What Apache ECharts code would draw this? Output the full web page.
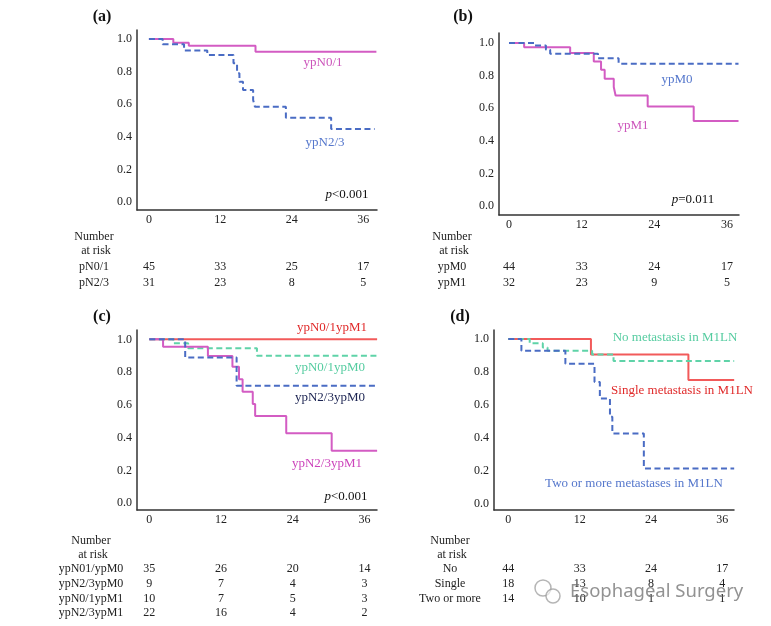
<!DOCTYPE html>
<html><head><meta charset="utf-8">
<script src="https://cdn.jsdelivr.net/npm/echarts@6/dist/echarts.min.js"></script>
<style>html,body{margin:0;padding:0;background:#fff}#c{width:771px;height:626px}</style>
</head><body><div id="c"></div>
<script>
// ---- tick labels ----
const monthTicks = [0, 12, 24, 36];
const survTicks = [0, 0.2, 0.4, 0.6, 0.8, 1.0];

// ---- panel (a) ----
const aN01_t = [0, 4.1, 6.7, 17.9, 38.2];
const aN01_s = [1.0, 0.977, 0.959, 0.922, 0.922];
const aN23_t = [0, 2.3, 5.9, 9.8, 14.2, 14.8, 15.2, 15.8, 17.5, 17.8, 23.0, 30.6, 37.9];
const aN23_s = [1.0, 0.967, 0.929, 0.902, 0.851, 0.79, 0.738, 0.687, 0.626, 0.585, 0.517, 0.448, 0.448];

// ---- panel (b) ----
const bM0_t = [0, 4.3, 6.1, 6.8, 14.7, 18.1, 37.9];
const bM0_s = [1.0, 0.985, 0.959, 0.934, 0.906, 0.873, 0.873];
const bM1_t = [0, 2.5, 10.1, 14.0, 15.2, 15.8, 17.3, 17.6, 22.9, 30.5, 37.9];
const bM1_s = [1.0, 0.973, 0.938, 0.887, 0.836, 0.78, 0.73, 0.678, 0.61, 0.522, 0.522];

// ---- panel (c) ----
const cN01M1_t = [0, 38.1];
const cN01M1_s = [1.0, 1.0];
const cN01M0_t = [0, 4.0, 6.5, 18.0, 38.1];
const cN01M0_s = [1.0, 0.976, 0.945, 0.9, 0.9];
const cN23M0_t = [0, 6.0, 14.6, 38.1];
const cN23M0_s = [1.0, 0.89, 0.717, 0.717];
const cN23M1_t = [0, 2.3, 9.8, 13.9, 15.0, 15.6, 17.3, 17.7, 22.9, 30.5, 38.1];
const cN23M1_s = [1.0, 0.955, 0.898, 0.833, 0.756, 0.681, 0.606, 0.533, 0.427, 0.321, 0.321];

// ---- panel (d) ----
const dNo_t = [0, 3.6, 5.8, 6.6, 14.1, 17.7, 38.0];
const dNo_s = [1.0, 0.974, 0.949, 0.929, 0.907, 0.867, 0.867];
const dSingle_t = [0, 13.9, 30.3, 38.0];
const dSingle_s = [1.0, 0.907, 0.752, 0.752];
const dTwo_t = [0, 2.2, 9.6, 14.5, 15.4, 17.1, 17.5, 22.8, 38.0];
const dTwo_s = [1.0, 0.929, 0.85, 0.74, 0.64, 0.529, 0.428, 0.216, 0.216];

// ---- numbers at risk ----
const riskA_rows = ['pN0/1', 'pN2/3'];
const riskA = [[45, 33, 25, 17], [31, 23, 8, 5]];
const riskB_rows = ['ypM0', 'ypM1'];
const riskB = [[44, 33, 24, 17], [32, 23, 9, 5]];
const riskC_rows = ['ypN01/ypM0', 'ypN2/3ypM0', 'ypN0/1ypM1', 'ypN2/3ypM1'];
const riskC = [[35, 26, 20, 14], [9, 7, 4, 3], [10, 7, 5, 3], [22, 16, 4, 2]];
const riskD_rows = ['No', 'Single', 'Two or more'];
const riskD = [[44, 33, 24, 17], [18, 13, 8, 4], [14, 10, 1, 1]];

const FONT = '"Liberation Serif", "Times New Roman", serif';
const MAG = '#d35cc3', BLUE = '#4a6cc4', RED = '#f25a5a', GREEN = '#5fd3a8', NAVY = '#1c2452';

const panels = [
  {grid: {left: 137, top: 30, width: 240, height: 180}, x: [-2.0, 38.3], y: [-0.049, 1.055]},
  {grid: {left: 499, top: 33, width: 240, height: 182}, x: [-1.65, 37.98], y: [-0.055, 1.061]},
  {grid: {left: 137, top: 330, width: 240, height: 180}, x: [-2.06, 38.08], y: [-0.041, 1.057]},
  {grid: {left: 494, top: 330, width: 240, height: 180}, x: [-2.41, 37.97], y: [-0.036, 1.055]}
];

function zip(t, s) { return t.map((v, i) => [v, s[i]]); }

const chart = echarts.init(document.getElementById('c'), null, {renderer: 'canvas'});

const grids = [], xAxes = [], yAxes = [];
panels.forEach((p, i) => {
  grids.push(Object.assign({containLabel: false}, p.grid));
  xAxes.push({
    type: 'value', gridIndex: i, min: p.x[0], max: p.x[1],
    axisLine: {show: true, onZero: false, lineStyle: {color: '#333', width: 1.5}},
    axisTick: {show: false}, splitLine: {show: false},
    axisLabel: {customValues: monthTicks, margin: 4, color: '#222', fontFamily: FONT, fontSize: 12,
      formatter: v => String(Math.round(v))}
  });
  yAxes.push({
    type: 'value', gridIndex: i, min: p.y[0], max: p.y[1],
    axisLine: {show: true, onZero: false, lineStyle: {color: '#333', width: 1.5}},
    axisTick: {show: false}, splitLine: {show: false},
    axisLabel: {customValues: survTicks, margin: 5, color: '#222', fontFamily: FONT, fontSize: 12,
      formatter: v => v.toFixed(1)}
  });
});

function km(idx, t, s, color, dashed) {
  return {
    type: 'line', xAxisIndex: idx, yAxisIndex: idx, step: 'end', symbol: 'none',
    data: zip(t, s), silent: true, animation: false,
    lineStyle: {color: color, width: 2, type: dashed ? [6, 3.5] : 'solid'}
  };
}

const series = [
  km(0, aN01_t, aN01_s, MAG, false),
  km(0, aN23_t, aN23_s, BLUE, true),
  km(1, bM1_t, bM1_s, MAG, false),
  km(1, bM0_t, bM0_s, BLUE, true),
  km(2, cN01M1_t, cN01M1_s, RED, false),
  km(2, cN01M0_t, cN01M0_s, GREEN, true),
  km(2, cN23M1_t, cN23M1_s, MAG, false),
  km(2, cN23M0_t, cN23M0_s, BLUE, true),
  km(3, dSingle_t, dSingle_s, RED, false),
  km(3, dNo_t, dNo_s, GREEN, true),
  km(3, dTwo_t, dTwo_s, BLUE, true)
];

chart.setOption({animation: false, grid: grids, xAxis: xAxes, yAxis: yAxes, series: series});

const g = [];
function txt(x, y, text, opts) {
  g.push({type: 'text', x: x, y: y, silent: true, style: Object.assign({
    text: text, fill: '#222', font: '12px ' + FONT, align: 'center', verticalAlign: 'middle'
  }, opts || {})});
}
function pval(x, y, rest) {
  g.push({type: 'text', x: x, y: y, silent: true, style: {
    text: '{i|p}{n|' + rest + '}', align: 'center', verticalAlign: 'middle',
    rich: {i: {fontFamily: FONT, fontSize: 13, fontStyle: 'italic', fill: '#111'},
           n: {fontFamily: FONT, fontSize: 13, fill: '#111'}}
  }});
}
// panel letters
[['(a)', 102, 17], ['(b)', 463, 17], ['(c)', 102, 317], ['(d)', 460, 317]].forEach(l =>
  txt(l[1], l[2], l[0], {font: 'bold 16px ' + FONT, fill: '#111'}));

// curve labels
const L13 = '13px ' + FONT;
txt(323, 63, 'ypN0/1', {font: L13, fill: '#cc55bb'});
txt(325, 143, 'ypN2/3', {font: L13, fill: '#5577cc'});
pval(347, 195, '<0.001');
txt(677, 80, 'ypM0', {font: L13, fill: '#5577cc'});
txt(633, 126, 'ypM1', {font: L13, fill: '#cc55bb'});
pval(693, 200, '=0.011');
txt(332, 328, 'ypN0/1ypM1', {font: L13, fill: '#e02a2a'});
txt(330, 368, 'ypN0/1ypM0', {font: L13, fill: '#55cca0'});
txt(330, 398, 'ypN2/3ypM0', {font: L13, fill: NAVY});
txt(327, 464, 'ypN2/3ypM1', {font: L13, fill: '#cc44bb'});
pval(346, 497, '<0.001');
txt(675, 338, 'No metastasis in M1LN', {font: L13, fill: '#55cca0'});
txt(682, 391, 'Single metastasis in M1LN', {font: L13, fill: '#e02a2a'});
txt(634, 484, 'Two or more metastases in M1LN', {font: L13, fill: '#5577cc'});

// risk tables
function riskTable(idx, labelX, yNum, rowYs, rows, vals) {
  txt(labelX, yNum, 'Number');
  txt(labelX + 2, yNum + 14, 'at risk');
  rows.forEach((r, i) => {
    txt(labelX, rowYs[i], r);
    vals[i].forEach((v, j) => {
      const px = chart.convertToPixel({xAxisIndex: idx}, monthTicks[j]);
      txt(px, rowYs[i], String(v));
    });
  });
}
riskTable(0, 94, 237, [267, 283], riskA_rows, riskA);
riskTable(1, 452, 237, [267, 283], riskB_rows, riskB);
riskTable(2, 91, 541, [569, 583.5, 598.5, 613], riskC_rows, riskC);
riskTable(3, 450, 541, [569, 584, 599], riskD_rows, riskD);

// watermark
g.push({type: 'text', x: 570, y: 592, silent: true, style: {
  text: 'Esophageal Surgery', font: '18.5px "Noto Sans", sans-serif', fill: 'rgba(110,110,110,0.75)',
  align: 'left', verticalAlign: 'middle'}});
g.push({type: 'circle', silent: true, shape: {cx: 543, cy: 588, r: 8}, style: {fill: 'none', stroke: 'rgba(150,150,150,0.7)', lineWidth: 1.5}});
g.push({type: 'circle', silent: true, shape: {cx: 553, cy: 596, r: 7}, style: {fill: 'rgba(255,255,255,0.6)', stroke: 'rgba(150,150,150,0.7)', lineWidth: 1.5}});

chart.setOption({graphic: g});
</script>
</body></html>
